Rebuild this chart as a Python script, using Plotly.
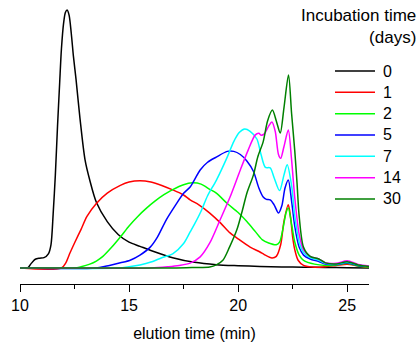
import plotly.graph_objects as go

# ---------------- data ----------------
labels = ["0", "1", "2", "5", "7", "14", "30"]
colors = ["#000000", "#ff0000", "#00ff00", "#0000ff", "#00ffff", "#ff00ff", "#008000"]

t_0 = [10.0, 10.35, 10.5, 10.7, 10.9, 11.1, 11.3, 11.42, 11.52, 11.62, 11.72, 11.82, 11.9, 12.0,
       12.08, 12.16, 12.25, 12.35, 12.45, 12.57, 12.75, 12.98, 13.2, 13.5, 14.0, 14.5, 15.0, 15.5,
       16.0, 17.0, 18.0, 19.0, 20.0, 21.0, 22.0, 23.0, 24.0, 25.0, 26.0]
v_0 = [0, 0, 0.016, 0.034, 0.038, 0.04, 0.055, 0.09, 0.21, 0.36, 0.55, 0.72, 0.85, 0.95,
       0.99, 1.0, 0.98, 0.91, 0.82, 0.73, 0.58, 0.42, 0.34, 0.255, 0.18, 0.13, 0.1, 0.084,
       0.068, 0.04, 0.022, 0.013, 0.009, 0.006, 0.004, 0.003, 0.002, 0.001, 0.0]

t_1 = [10.0, 11.9, 12.1, 12.3, 12.5, 12.8, 13.07, 13.5, 14.0, 14.6, 15.0, 15.5, 16.0, 16.5, 17.0,
       17.5, 17.8, 18.2, 18.7, 19.2, 19.63, 19.95, 20.55, 21.0, 21.2, 21.55, 21.75, 21.95, 22.1,
       22.3, 22.4, 22.5, 22.6, 22.75, 23.0, 23.5, 24.0, 24.5, 25.0, 25.5, 26.0]
v_1 = [0, 0, 0.02, 0.06, 0.097, 0.15, 0.2, 0.25, 0.29, 0.32, 0.333, 0.338, 0.333, 0.32, 0.303,
       0.283, 0.264, 0.245, 0.213, 0.174, 0.136, 0.116, 0.081, 0.062, 0.052, 0.039, 0.045, 0.09, 0.18,
       0.245, 0.2, 0.12, 0.07, 0.03, 0.01, 0.003, 0.005, 0.01, 0.015, 0.008, 0.003]

t_2 = [10.0, 12.5, 12.8, 13.2, 13.5, 13.8, 14.2, 14.6, 15.0, 15.4, 15.8, 16.2, 16.6, 17.0, 17.5,
       17.9, 18.3, 18.7, 19.0, 19.5, 20.0, 20.4, 20.8, 21.1, 21.4, 21.75, 21.9, 22.05, 22.2, 22.3,
       22.45, 22.6, 22.8, 23.0, 23.5, 24.0, 24.5, 25.0, 25.5, 26.0]
v_2 = [0, 0, 0.005, 0.015, 0.027, 0.045, 0.08, 0.12, 0.163, 0.2, 0.232, 0.26, 0.284, 0.304, 0.323,
       0.33, 0.325, 0.305, 0.29, 0.25, 0.215, 0.18, 0.14, 0.11, 0.097, 0.09, 0.1, 0.15, 0.215, 0.233,
       0.17, 0.1, 0.05, 0.03, 0.015, 0.01, 0.012, 0.018, 0.008, 0.004]

t_5 = [10.0, 13.5, 14.1, 14.6, 15.05, 15.5, 15.96, 16.3, 16.7, 17.1, 17.5, 17.8, 18.26, 18.6, 19.0,
       19.5, 19.8, 20.1, 20.4, 20.7, 20.95, 21.15, 21.3, 21.47, 21.65, 21.85, 22.0, 22.15, 22.3,
       22.45, 22.6, 22.8, 23.0, 23.3, 23.7, 24.0, 24.5, 25.0, 25.5, 26.0]
v_5 = [0, 0, 0.01, 0.02, 0.03, 0.05, 0.08, 0.12, 0.186, 0.24, 0.29, 0.314, 0.38, 0.41, 0.43,
       0.452, 0.452, 0.44, 0.415, 0.375, 0.31, 0.275, 0.266, 0.264, 0.245, 0.213, 0.24, 0.31, 0.341,
       0.26, 0.16, 0.08, 0.05, 0.035, 0.025, 0.015, 0.014, 0.02, 0.01, 0.006]

t_7 = [10.0, 14.5, 15.0, 15.5, 16.0, 16.5, 17.0, 17.5, 17.8, 18.0, 18.3, 18.6, 19.0, 19.5, 19.8,
       20.05, 20.3, 20.55, 20.86, 21.05, 21.25, 21.47, 21.65, 21.9, 22.1, 22.25, 22.45, 22.6, 22.8,
       23.0, 23.3, 23.7, 24.0, 24.5, 25.0, 25.5, 26.0]
v_7 = [0, 0, 0.005, 0.012, 0.023, 0.04, 0.055, 0.095, 0.14, 0.17, 0.22, 0.28, 0.34, 0.43, 0.49,
       0.525, 0.539, 0.53, 0.5, 0.44, 0.39, 0.388, 0.35, 0.3, 0.36, 0.4, 0.32, 0.2, 0.1,
       0.06, 0.04, 0.03, 0.018, 0.016, 0.022, 0.012, 0.007]

t_14 = [10.0, 16.0, 16.8, 17.3, 17.8, 18.26, 18.7, 19.17, 19.63, 20.1, 20.46, 20.78, 20.95, 21.05,
        21.2, 21.4, 21.55, 21.7, 21.85, 21.95, 22.1, 22.3, 22.45, 22.6, 22.8, 23.0, 23.3, 23.7,
        24.0, 24.5, 25.0, 25.5, 26.0]
v_14 = [0, 0, 0.005, 0.01, 0.019, 0.043, 0.097, 0.186, 0.275, 0.38, 0.457, 0.515, 0.522, 0.515,
        0.52, 0.55, 0.566, 0.53, 0.44, 0.425, 0.47, 0.535, 0.42, 0.27, 0.13, 0.07, 0.045, 0.035,
        0.02, 0.018, 0.028, 0.014, 0.008]

t_30 = [10.0, 17.0, 18.0, 18.7, 19.0, 19.3, 19.6, 19.95, 20.2, 20.4, 20.7, 20.9, 21.15, 21.35,
        21.57, 21.75, 21.93, 22.1, 22.31, 22.45, 22.6, 22.7, 22.8, 23.0, 23.3, 23.7, 24.0, 24.5,
        25.0, 25.5, 26.0]
v_30 = [0, 0, 0.002, 0.004, 0.012, 0.03, 0.08, 0.15, 0.225, 0.29, 0.36, 0.43, 0.49, 0.57,
        0.612, 0.57, 0.523, 0.62, 0.748, 0.6, 0.45, 0.33, 0.2, 0.08, 0.045, 0.035, 0.02, 0.016,
        0.024, 0.012, 0.006]

series_t = [t_0, t_1, t_2, t_5, t_7, t_14, t_30]
series_v = [v_0, v_1, v_2, v_5, v_7, v_14, v_30]

x_ticks = [10, 15, 20, 25]
x_minor = [12.5, 17.5, 22.5]
x_title = "elution time (min)"
legend_title = "Incubation time<br>(days)"

# ---------------- figure ----------------
FONT = "Arial, Liberation Sans, sans-serif"
W, H = 420, 342
L, R, T, B = 20, 51, 0, 58
pw, ph = W - L - R, H - T - B


def px_x(px):
    return (px - L) / pw


def px_y(py):
    return (H - B - py) / ph


fig = go.Figure()
for t, v, name, c in zip(series_t, series_v, labels, colors):
    fig.add_trace(go.Scatter(x=t, y=v, mode="lines", name=name,
                             line=dict(color=c, width=1.5, shape="spline", smoothing=0.8),
                             showlegend=False, hoverinfo="skip"))

# manual legend
shapes = []
annotations = []
for i, (name, c) in enumerate(zip(labels, colors)):
    yc = 71 + 21.33 * i
    shapes.append(dict(type="line", xref="paper", yref="paper",
                       x0=px_x(335), x1=px_x(375), y0=px_y(yc), y1=px_y(yc),
                       line=dict(color=c, width=1.5)))
    annotations.append(dict(text=name, xref="paper", yref="paper", x=px_x(381), y=px_y(yc),
                            xanchor="left", yanchor="middle", showarrow=False,
                            font=dict(family=FONT, size=16, color="black")))
annotations.append(dict(text=legend_title, xref="paper", yref="paper", x=px_x(418), y=px_y(26.5),
                        xanchor="right", yanchor="middle", align="right", showarrow=False,
                        font=dict(family=FONT, size=17, color="black")))

fig.update_layout(
    width=W, height=H,
    margin=dict(l=L, r=R, t=T, b=B, pad=0),
    paper_bgcolor="white", plot_bgcolor="white",
    font=dict(family=FONT, size=16, color="black"),
    showlegend=False,
    shapes=shapes, annotations=annotations,
    xaxis=dict(range=[10, 26], tickmode="array", tickvals=x_ticks,
               ticks="outside", ticklen=7, tickwidth=1, tickcolor="black",
               showline=True, linecolor="black", linewidth=1,
               showgrid=False, zeroline=False,
               tickfont=dict(family=FONT, size=16, color="black"),
               title=dict(text=x_title, font=dict(family=FONT, size=16, color="black"), standoff=14),
               minor=dict(tickmode="array", tickvals=x_minor, ticks="outside", ticklen=4,
                          tickwidth=1, tickcolor="black", showgrid=False)),
    yaxis=dict(visible=False, range=[-0.062, 1.0388], fixedrange=True),
)

fig.write_html("out.html", config={"displayModeBar": False, "staticPlot": True},
               post_script="document.body.style.margin='0';document.body.style.overflow='hidden';")
